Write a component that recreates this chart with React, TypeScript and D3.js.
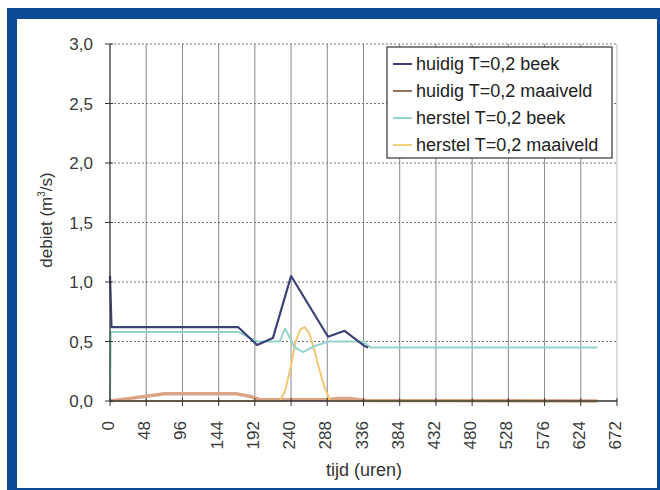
import React from "react";
import * as d3 from "d3";

// uren / debiet (m3/s)
const huidigBeekT = [0, 2, 170, 195, 216, 240, 264, 289, 311, 338, 342];
const huidigBeekQ = [1.05, 0.62, 0.62, 0.47, 0.53, 1.05, 0.8, 0.54, 0.59, 0.46, 0.45];

const huidigMaaiveldT = [0, 24, 48, 72, 168, 185, 200, 288, 300, 320, 340, 646];
const huidigMaaiveldQ = [0, 0.02, 0.04, 0.06, 0.06, 0.04, 0.01, 0.01, 0.02, 0.02, 0.005, 0];

const herstelBeekT = [0, 1, 170, 195, 225, 232, 245, 256, 270, 290, 336, 345, 646];
const herstelBeekQ = [0, 0.58, 0.58, 0.5, 0.5, 0.61, 0.45, 0.41, 0.46, 0.5, 0.5, 0.45, 0.45];

const herstelMaaiveldT = [0, 225, 232, 240, 246, 252, 258, 264, 270, 276, 284, 292, 646];
const herstelMaaiveldQ = [0, 0, 0.08, 0.3, 0.5, 0.6, 0.62, 0.57, 0.45, 0.3, 0.12, 0, 0];

const xTicks = [0, 48, 96, 144, 192, 240, 288, 336, 384, 432, 480, 528, 576, 624, 672];
const yTicks = [0, 0.5, 1, 1.5, 2, 2.5, 3];

const seriesNames = [
  "huidig T=0,2 beek",
  "huidig T=0,2 maaiveld",
  "herstel T=0,2 beek",
  "herstel T=0,2 maaiveld",
];

const zip = (t: number[], q: number[]) => t.map((d, i) => [d, q[i]] as [number, number]);

const series = [
  { name: seriesNames[1], data: zip(huidigMaaiveldT, huidigMaaiveldQ), color: "#dba585", width: 3.5 },
  { name: seriesNames[3], data: zip(herstelMaaiveldT, herstelMaaiveldQ), color: "#f3c873", width: 2 },
  { name: seriesNames[2], data: zip(herstelBeekT, herstelBeekQ), color: "#94d3cb", width: 2 },
  { name: seriesNames[0], data: zip(huidigBeekT, huidigBeekQ), color: "#3c4178", width: 2.2 },
];

const legendColors: Record<string, string> = {
  [seriesNames[0]]: "#3c4178",
  [seriesNames[1]]: "#9a7060",
  [seriesNames[2]]: "#94d3cb",
  [seriesNames[3]]: "#f3d27a",
};

const App = () => {
  const x = d3.scaleLinear().domain([0, 672]).range([110, 617]);
  const y = d3.scaleLinear().domain([0, 3]).range([401, 44]);
  const line = d3
    .line<[number, number]>()
    .x((d) => x(d[0]))
    .y((d) => y(d[1]));
  const fmt = (v: number) => d3.format(".1f")(v).replace(".", ",");
  const font = "'Liberation Sans', Arial, sans-serif";

  return (
    <svg
      width={660}
      height={490}
      style={{ position: "absolute", left: 0, top: 0 }}
      fontFamily={font}
    >
      <rect x={0} y={0} width={660} height={490} fill="#fff" />
      <rect x={7} y={8} width={660} height={490} fill="#0d4b97" />
      <rect x={17} y={19} width={640} height={469} fill="#fff" />

      {/* grid */}
      {xTicks.slice(1).map((t) => (
        <line key={"gx" + t} x1={x(t)} x2={x(t)} y1={y(3)} y2={y(0)} stroke={t === 672 ? "#bbb" : "#8a8a8a"} strokeWidth={1} />
      ))}
      {yTicks.slice(1).map((v) => (
        <line key={"gy" + v} x1={x(0)} x2={x(672)} y1={y(v)} y2={y(v)} stroke="#777" strokeWidth={1} strokeDasharray="2,2" />
      ))}

      {/* series */}
      {series.map((s) => (
        <path key={s.name} d={line(s.data) || ""} fill="none" stroke={s.color} strokeWidth={s.width} strokeLinejoin="round" />
      ))}

      {/* axes */}
      <line x1={x(0)} x2={x(0)} y1={y(3)} y2={y(0)} stroke="#333" strokeWidth={1.3} />
      <line x1={x(0)} x2={x(672)} y1={y(0)} y2={y(0)} stroke="#333" strokeWidth={1.3} />
      {yTicks.map((v) => (
        <g key={"yt" + v}>
          <line x1={x(0) - 5} x2={x(0) + 3} y1={y(v)} y2={y(v)} stroke="#333" />
          <text x={93} y={y(v) + 6} textAnchor="end" fontSize={17} fill="#3a3a3a">
            {fmt(v)}
          </text>
        </g>
      ))}
      {xTicks.map((t) => (
        <g key={"xt" + t}>
          <line x1={x(t)} x2={x(t)} y1={y(0) - 3} y2={y(0) + 5} stroke="#333" />
          <text
            transform={`translate(${x(t) + 4},421) rotate(-90)`}
            textAnchor="end"
            fontSize={17}
            fill="#3a3a3a"
          >
            {t}
          </text>
        </g>
      ))}

      <text x={364} y={476} textAnchor="middle" fontSize={18} fill="#333">
        tijd (uren)
      </text>
      <text transform={`translate(52,220) rotate(-90)`} textAnchor="middle" fontSize={17} fill="#333">
        debiet (m<tspan dy={-7} fontSize={10}>3</tspan>
        <tspan dy={7}>/s)</tspan>
      </text>

      {/* legend */}
      <rect x={387} y={47} width={225} height={111} fill="#fff" stroke="#333" strokeWidth={1.2} />
      {seriesNames.map((n, i) => (
        <g key={"lg" + n}>
          <line x1={393} x2={412} y1={64 + i * 27} y2={64 + i * 27} stroke={legendColors[n]} strokeWidth={2} />
          <text x={416} y={70 + i * 27} fontSize={18} fill="#222">
            {n}
          </text>
        </g>
      ))}
    </svg>
  );
};

export default App;
